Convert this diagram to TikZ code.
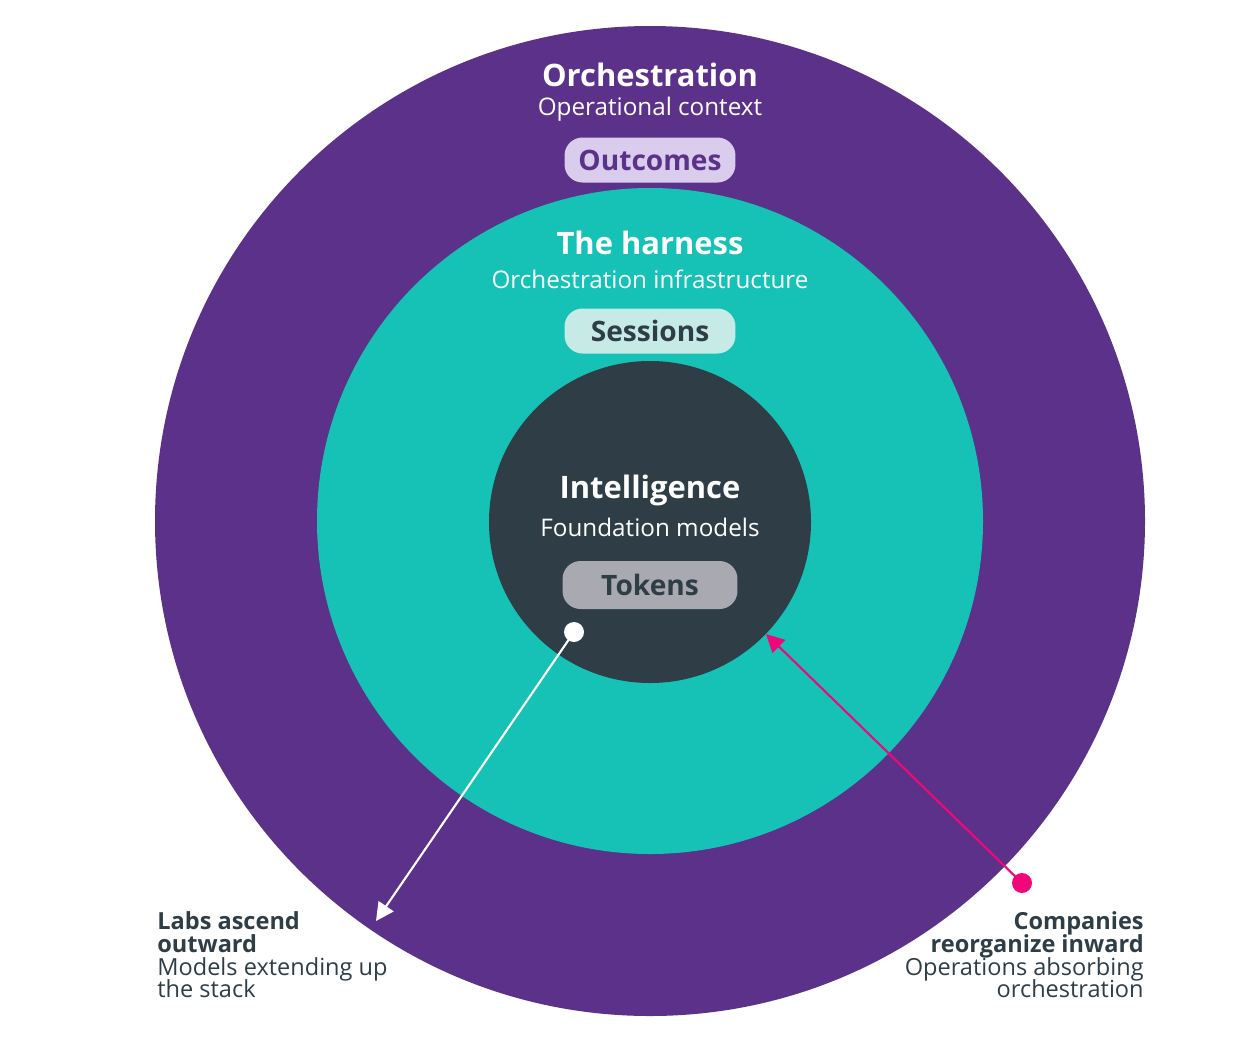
\documentclass[tikz,border=0pt]{standalone}
\usepackage{fontspec}
\setmainfont{Open Sans}
\usepackage{xcolor}
\usetikzlibrary{arrows.meta,positioning}

\definecolor{ringpurple}{HTML}{5B318A}
\definecolor{ringteal}{HTML}{16C2B5}
\definecolor{coredark}{HTML}{2F3D47}
\definecolor{outfill}{HTML}{D9CCEC}
\definecolor{sesfill}{HTML}{C6EAE6}
\definecolor{tokfill}{HTML}{A9A9B1}
\definecolor{hotpink}{HTML}{F0087A}

\setlength{\lineskiplimit}{-20pt}

\tikzset{
    pill/.style={rounded corners=0.36cm, minimum width=3.42cm, minimum height=0.9cm,
        inner sep=0pt, font=\fontsize{16}{18}\selectfont\bfseries},
    ringtitle/.style={text=white, inner sep=0pt, font=\fontsize{17.6}{20}\selectfont\bfseries},
    ringsub/.style={text=white, inner sep=0pt, font=\fontsize{13.8}{16}\selectfont},
    sidenote/.style={text=coredark, inner sep=0pt, font=\fontsize{13.4}{13.04}\selectfont},
    enddot/.style={circle, minimum size=0.4cm, inner sep=0pt},
}

\begin{document}
\begin{tikzpicture}[x=0.02cm, y=-0.02cm]
                \useasboundingbox (0,0) rectangle (1250,1042);

                % the three rings
                \draw[fill=ringpurple, draw=none] (650,521) circle (495);
                \draw[fill=ringteal, draw=none] (650,521) circle (333);
                \draw[fill=coredark, draw=none] (650,522) circle (161);

                % outer ring
                \node[ringtitle] (orch) at (650,75) {Orchestration};
                \node[ringsub] (orchsub) at (650,109) {Operational context};
                \node[pill, fill=outfill, text=ringpurple] (outcomes) at (650,160) {Outcomes};

                % middle ring
                \node[ringtitle] (harness) at (650,243) {The harness};
                \node[ringsub] (harnesssub) at (650,279) {Orchestration infrastructure};
                \node[pill, fill=sesfill, text=coredark] (sessions) at (650,331) {Sessions};

                % core
                \node[ringtitle] (intel) at (650,490) {Intelligence};
                \node[ringsub] (intelsub) at (650,527) {Foundation models};
                \node[pill, fill=tokfill, text=coredark, minimum width=3.5cm, minimum height=0.96cm] (tokens) at (650,585) {Tokens};

                % labs arrow
                \node[enddot, fill=white] (labsdot) at (574,632) {};
                \coordinate (labstip) at (376,921);
                \draw[white, line width=1.2pt, -{Triangle[length=0.36cm, width=0.36cm]}] (labsdot.center) -- (labstip);

                % companies arrow
                \node[enddot, fill=hotpink] (codot) at (1022,883) {};
                \coordinate (cotip) at (766,634);
                \draw[hotpink, line width=1.2pt, -{Triangle[length=0.36cm, width=0.36cm]}] (codot.center) -- (cotip);

                % side notes
                \node[sidenote, align=left, anchor=north west] (labsnote) at (157,911)
                    {\textbf{Labs ascend}\\\textbf{outward}\\Models extending up\\the stack};
                \node[sidenote, align=right, anchor=north east] (conote) at (1144,911)
                    {\textbf{Companies}\\\textbf{reorganize inward}\\Operations absorbing\\orchestration};

\end{tikzpicture}
\end{document}
